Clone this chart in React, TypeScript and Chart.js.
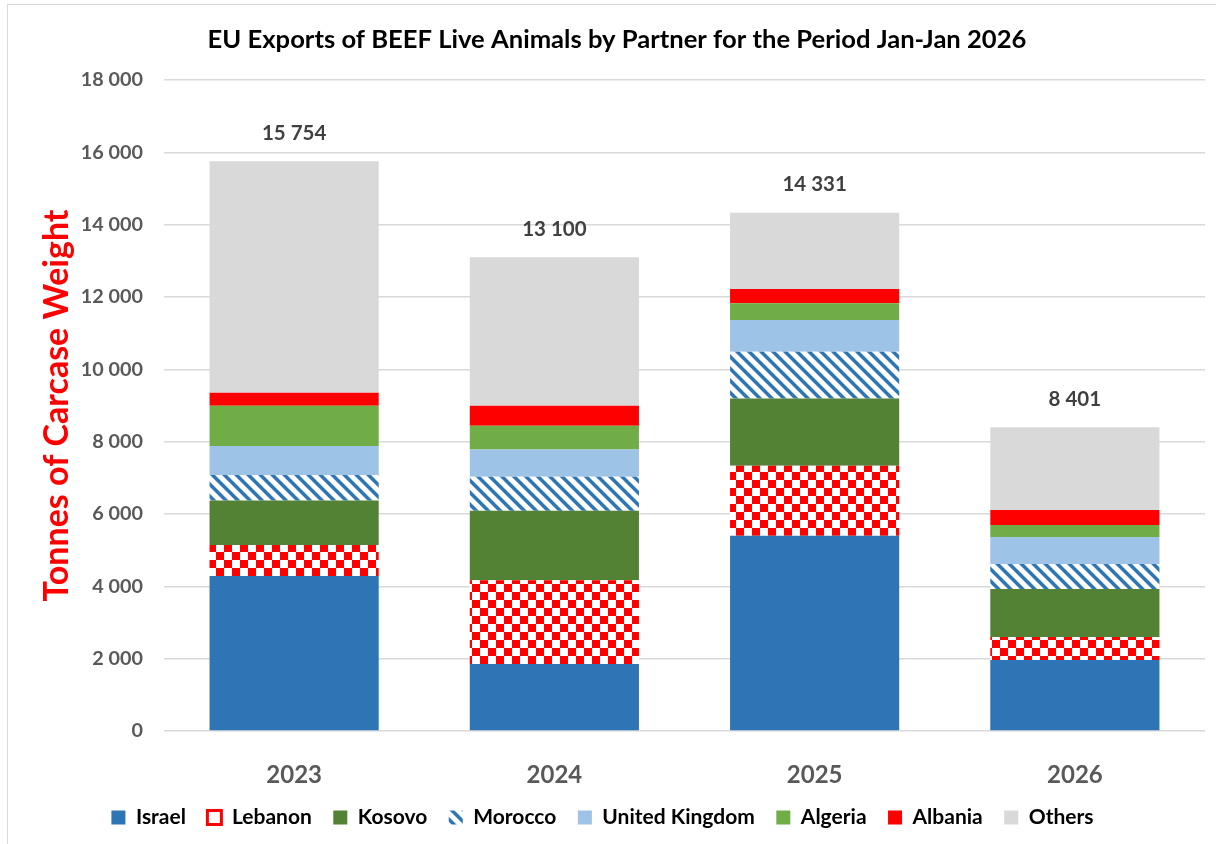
import React, { useEffect, useRef } from 'react';
import { Chart, registerables } from 'chart.js';

Chart.register(...registerables);

const years = ['2023', '2024', '2025', '2026'];
const israel = [4285, 1850, 5400, 1963];
const lebanon = [855, 2316, 1935, 636];
const kosovo = [1230, 1925, 1862, 1327];
const morocco = [710, 940, 1290, 691];
const unitedKingdom = [800, 750, 876, 746];
const algeria = [1110, 660, 462, 332];
const albania = [360, 550, 395, 415];
const others = [6404, 4109, 2111, 2291];
const totals = [15754, 13100, 14331, 8401];

const chartTitle = 'EU Exports of BEEF Live Animals by Partner for the Period Jan-Jan 2026';
const yAxisTitle = 'Tonnes of Carcase Weight';

const FONT = 'Lato, "Open Sans", sans-serif';

const fmt = (n: number) => String(n).replace(/\B(?=(\d{3})+(?!\d))/g, ' ');

function checkerPattern(ctx: CanvasRenderingContext2D) {
  const c = document.createElement('canvas');
  c.width = 16;
  c.height = 16;
  const g = c.getContext('2d')!;
  g.fillStyle = '#FFFFFF';
  g.fillRect(0, 0, 16, 16);
  g.fillStyle = '#FF0000';
  g.fillRect(0, 0, 8, 8);
  g.fillRect(8, 8, 8, 8);
  return ctx.createPattern(c, 'repeat')!;
}

function stripePattern(ctx: CanvasRenderingContext2D) {
  const n = 12;
  const c = document.createElement('canvas');
  c.width = n;
  c.height = n;
  const g = c.getContext('2d')!;
  const img = g.createImageData(n, n);
  for (let y = 0; y < n; y++) {
    for (let x = 0; x < n; x++) {
      const d = (((x - y) % n) + n) % n;
      const i = (y * n + x) * 4;
      let r = 255, gg = 255, b = 255;
      if (d < 4) { r = 46; gg = 117; b = 182; }
      else if (d === 4 || d === n - 1) { r = 150; gg = 186; b = 219; }
      img.data[i] = r; img.data[i + 1] = gg; img.data[i + 2] = b; img.data[i + 3] = 255;
    }
  }
  g.putImageData(img, 0, 0);
  return ctx.createPattern(c, 'repeat')!;
}

const decorPlugin = {
  id: 'decor',
  afterDatasetsDraw(chart: any) {
    const { ctx, scales } = chart;
    ctx.save();
    ctx.font = `bold 20.5px ${FONT}`;
    ctx.fillStyle = '#404040';
    ctx.textAlign = 'center';
    ctx.textBaseline = 'middle';
    totals.forEach((t, i) => {
      const x = scales.x.getPixelForValue(i);
      const y = scales.y.getPixelForValue(t);
      ctx.fillText(fmt(t), x, y - 28);
    });
    ctx.restore();
  },
  afterDraw(chart: any) {
    const { ctx } = chart;
    ctx.save();
    ctx.font = `bold 25.6px ${FONT}`;
    ctx.fillStyle = '#000000';
    ctx.textAlign = 'center';
    ctx.textBaseline = 'middle';
    ctx.fillText(chartTitle, 617, 40);
    ctx.strokeStyle = '#D9D9D9';
    ctx.lineWidth = 1;
    ctx.strokeRect(7.5, 4.5, 1300, 900);
    ctx.restore();
  },
};

export default function App() {
  const ref = useRef<HTMLCanvasElement>(null);

  useEffect(() => {
    document.body.style.margin = '0';
    const canvas = ref.current!;
    const ctx = canvas.getContext('2d')!;
    const checker = checkerPattern(ctx);
    const stripes = stripePattern(ctx);

    const chart = new Chart(canvas, {
      type: 'bar',
      data: {
        labels: years,
        datasets: [
          { label: 'Israel', data: israel, backgroundColor: '#2E75B6' },
          { label: 'Lebanon', data: lebanon, backgroundColor: checker },
          { label: 'Kosovo', data: kosovo, backgroundColor: '#548235' },
          { label: 'Morocco', data: morocco, backgroundColor: stripes },
          { label: 'United Kingdom', data: unitedKingdom, backgroundColor: '#9DC3E6' },
          { label: 'Algeria', data: algeria, backgroundColor: '#70AD47' },
          { label: 'Albania', data: albania, backgroundColor: '#FF0000' },
          { label: 'Others', data: others, backgroundColor: '#D9D9D9' },
        ],
      },
      options: {
        responsive: false,
        animation: false,
        devicePixelRatio: 1,
        layout: { padding: { top: 80, left: 0, right: 11, bottom: 6 } },
        datasets: { bar: { barPercentage: 0.65, categoryPercentage: 1, borderWidth: 0 } },
        scales: {
          x: {
            stacked: true,
            grid: { display: false },
            border: { display: false },
            ticks: { font: { family: FONT, size: 24, weight: 'bold' }, color: '#595959', padding: 22 },
            afterFit: (s: any) => { s.height = 54.5; },
          },
          y: {
            stacked: true,
            min: 0,
            max: 18000,
            grid: { color: '#D9D9D9', drawTicks: false, lineWidth: 1.5 },
            border: { display: false },
            ticks: {
              stepSize: 2000,
              padding: 21,
              color: '#595959',
              font: { family: FONT, size: 19.8, weight: 'bold' },
              callback: (v: any) => fmt(Number(v)),
            },
            title: {
              display: true,
              text: yAxisTitle,
              color: '#FF0000',
              font: { family: FONT, size: 34, weight: 'bold' },
              padding: { top: 37, bottom: 0 },
            },
            afterFit: (s: any) => { s.width = 164; },
          },
        },
        plugins: {
          title: { display: false },
          tooltip: { enabled: false },
          legend: {
            position: 'bottom',
            labels: {
              boxWidth: 14,
              boxHeight: 14,
              padding: 21.5,
              color: '#000000',
              font: { family: FONT, size: 21, weight: 'bold' },
              generateLabels: (c: any) => {
                const items = Chart.defaults.plugins.legend.labels.generateLabels(c);
                return items.map((it: any) => {
                  if (it.text === 'Lebanon') {
                    return { ...it, fillStyle: '#FFFFFF', strokeStyle: '#FF0000', lineWidth: 3 };
                  }
                  return { ...it, lineWidth: 0 };
                });
              },
            },
          },
        },
      },
      plugins: [decorPlugin],
    } as any);

    return () => chart.destroy();
  }, []);

  return (
    <div style={{ width: 1216, height: 844 }}>
      <canvas ref={ref} width={1216} height={844} />
    </div>
  );
}
